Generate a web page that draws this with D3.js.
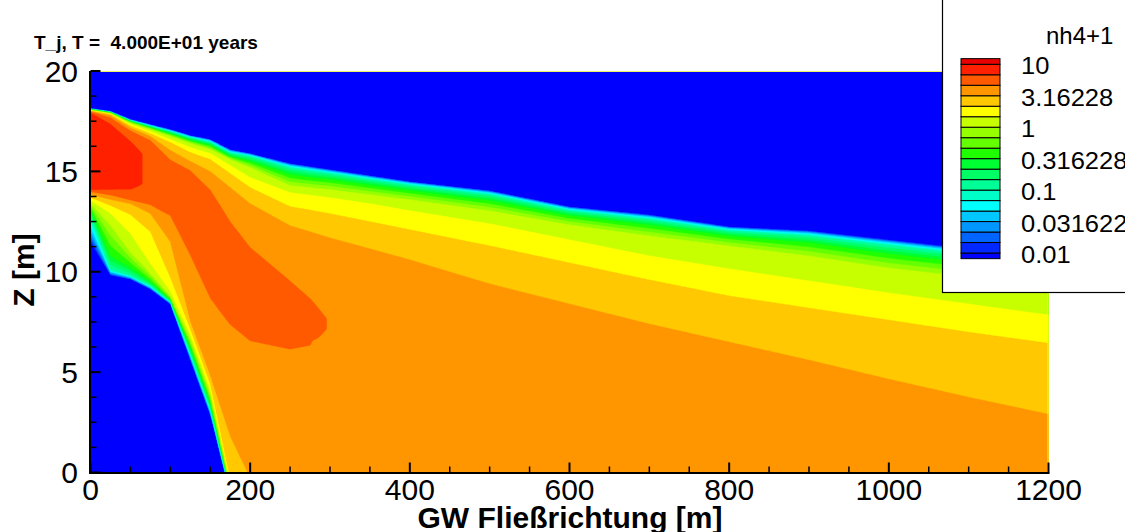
<!DOCTYPE html>
<html><head><meta charset="utf-8">
<script src="https://cdn.jsdelivr.net/npm/d3@7"></script>
<style>
html,body{margin:0;padding:0;background:#fff;overflow:hidden}
svg{display:block;font-family:"Liberation Sans",Arial,Helvetica,sans-serif}
</style></head><body>
<svg id="chart" width="1125" height="532"></svg>
<script>
// ================= DATA =================
// Stations along the flow direction (m) at which vertical profiles were read
const stationsX = [0,25,50,75,100,125,150,175,200,250,275,300,350,400,500,600,700,800,900,1000,1100,1200];

// Upper front: elevation z (m) where log10(nh4+1) reaches the given level
const topZ_m2   = [18.15,18.00,17.60,17.35,17.10,16.80,16.60,16.10,15.90,15.40,15.25,15.10,14.80,14.50,14.05,13.25,12.85,12.25,12.05,11.60,11.15,10.90]; // 0.01
const topZ_m15  = [18.12,17.98,17.57,17.30,17.05,16.75,16.55,16.02,15.84,15.32,15.17,15.02,14.72,14.43,13.97,13.17,12.76,12.17,11.95,11.49,11.04,10.77]; // 0.0316
const topZ_m1   = [18.10,17.96,17.53,17.25,16.98,16.68,16.45,15.92,15.75,15.18,15.03,14.90,14.60,14.32,13.85,13.05,12.62,12.05,11.80,11.32,10.87,10.58]; // 0.1
const topZ_m05  = [18.08,17.93,17.48,17.18,16.88,16.55,16.30,15.75,15.50,14.85,14.70,14.60,14.32,14.05,13.55,12.80,12.33,11.78,11.45,10.90,10.45,10.10]; // 0.316
const topZ_0    = [18.06,17.90,17.42,17.10,16.75,16.40,16.10,15.60,15.20,14.30,14.20,14.10,13.85,13.60,13.05,12.35,11.80,11.30,10.80,10.20,9.75,9.30];   // 1
const topZ_p017 = [18.04,17.87,17.35,17.00,16.60,16.20,15.90,15.30,14.70,13.95,13.82,13.70,13.40,13.05,12.40,11.60,10.80,10.15,9.55,8.95,8.40,7.85];   // 1.47
const topZ_p033 = [18.02,17.84,17.27,16.88,16.45,15.95,15.60,14.90,14.20,13.25,13.08,12.90,12.50,12.10,11.30,10.45,9.60,8.80,8.20,7.60,7.00,6.45];     // 2.15
const topZ_p05  = [18.00,17.80,17.17,16.75,16.05,15.50,15.00,14.20,13.40,12.30,12.00,11.70,11.15,10.60,9.40,8.40,7.40,6.50,5.60,4.65,3.75,2.90];      // 3.16

// Plume core: four (z, log10 value) points per station
const midZ1 = [17.98,17.65,17.00,16.50,15.50,15.00,14.00,12.40,11.10,9.40,8.50,8.50,10.00,9.50,8.40,7.40,6.40,5.50,4.60,3.70,2.80,2.00];
const midV1 = [0.69,0.69,0.69,0.70,0.69,0.68,0.68,0.675,0.675,0.675,0.675,0.62,0.58,0.57,0.56,0.56,0.56,0.56,0.56,0.56,0.56,0.56];
const midZ2 = [17.90,17.30,16.40,15.50,14.50,13.50,12.00,11.00,9.50,8.50,8.00,7.60,7.50,7.00,6.00,5.50,5.00,4.50,3.60,2.80,2.20,1.50];
const midV2 = [0.86,0.86,0.86,0.815,0.76,0.74,0.73,0.72,0.72,0.72,0.70,0.66,0.60,0.59,0.58,0.58,0.58,0.57,0.57,0.57,0.57,0.57];
const midZ3 = [14.10,14.15,14.20,14.50,13.50,12.00,10.00,9.00,7.50,7.00,7.00,7.20,5.00,4.50,4.00,3.50,3.00,3.00,2.50,2.00,1.50,1.00];
const midV3 = [0.86,0.86,0.86,0.815,0.76,0.74,0.73,0.72,0.72,0.72,0.70,0.66,0.60,0.59,0.58,0.58,0.58,0.58,0.58,0.58,0.58,0.58];
const midZ4 = [14.00,13.85,13.60,13.40,12.90,11.10,9.00,7.65,6.90,6.50,6.70,6.00,2.00,2.00,2.00,1.50,1.00,1.00,1.00,1.00,0.50,0.40];
const midV4 = [0.69,0.69,0.69,0.69,0.68,0.68,0.68,0.675,0.675,0.675,0.675,0.62,0.58,0.58,0.58,0.58,0.58,0.58,0.58,0.58,0.58,0.58];

// Lower (left) front: elevation z (m) where log10 value falls to the given level
const botZ_p05  = [13.85,13.60,13.40,12.90,11.50,7.50,4.80,1.80,-0.30,-1.0,-1.0,-1.0,-1.0,-1.0,-1.0,-1.0,-1.0,-1.0,-1.0,-1.0,-1.0,-1.0];
const botZ_p033 = [13.70,13.30,12.85,12.00,9.70,7.15,4.40,-0.40,-0.60,-1.2,-1.2,-1.2,-1.2,-1.2,-1.2,-1.2,-1.2,-1.2,-1.2,-1.2,-1.2,-1.2];
const botZ_p017 = [13.55,12.90,11.90,10.40,9.00,6.85,4.10,-0.60,-0.80,-1.4,-1.4,-1.4,-1.4,-1.4,-1.4,-1.4,-1.4,-1.4,-1.4,-1.4,-1.4,-1.4];
const botZ_0    = [13.40,12.30,10.95,9.90,8.75,6.60,3.85,-0.70,-1.00,-1.6,-1.6,-1.6,-1.6,-1.6,-1.6,-1.6,-1.6,-1.6,-1.6,-1.6,-1.6,-1.6];
const botZ_m05  = [13.10,10.80,10.20,9.50,8.60,6.25,3.50,-0.85,-1.20,-1.8,-1.8,-1.8,-1.8,-1.8,-1.8,-1.8,-1.8,-1.8,-1.8,-1.8,-1.8,-1.8];
const botZ_m1   = [12.70,10.10,9.80,9.30,8.50,5.90,3.15,-0.95,-1.40,-2.0,-2.0,-2.0,-2.0,-2.0,-2.0,-2.0,-2.0,-2.0,-2.0,-2.0,-2.0,-2.0];
const botZ_m15  = [12.00,9.95,9.70,9.20,8.45,5.75,3.00,-1.05,-1.50,-2.2,-2.2,-2.2,-2.2,-2.2,-2.2,-2.2,-2.2,-2.2,-2.2,-2.2,-2.2,-2.2];
const botZ_m2   = [11.40,9.80,9.60,9.10,8.35,5.55,2.80,-1.15,-1.60,-2.4,-2.4,-2.4,-2.4,-2.4,-2.4,-2.4,-2.4,-2.4,-2.4,-2.4,-2.4,-2.4];

// Contour levels (log10) and band colours, lowest first
const contourLevels = [-2,-11/6,-10/6,-1.5,-8/6,-7/6,-1,-5/6,-4/6,-0.5,-2/6,-1/6,0,1/6,2/6,0.5,4/6,5/6,1];
const belowColor = "#0000ff";
const bandColors = ["#0028ff","#0064ff","#0096ff","#00c8ff","#00ffff","#00ffc8","#00ff96","#00ff64","#00ff32",
                    "#20ff00","#64ff00","#96ff00","#c8ff00","#ffff00","#ffc800","#ff9600","#ff5a00","#ff2000","#e80000"];
const legendLabels = ["10","3.16228","1","0.316228","0.1","0.0316228","0.01"];
const legendLabelLevels = [1,0.5,0,-0.5,-1,-1.5,-2];
const xTickValues = [0,200,400,600,800,1000,1200];
const zTickValues = [0,5,10,15,20];

// ================= RENDERING =================
const svg = d3.select("#chart");
const x = d3.scaleLinear().domain([0,1200]).range([90.5,1048.5]);
const y = d3.scaleLinear().domain([0,20]).range([472.5,71]);

const knots = [
  [topZ_m2,-2],[topZ_m15,-1.5],[topZ_m1,-1],[topZ_m05,-0.5],[topZ_0,0],[topZ_p017,1/6],[topZ_p033,2/6],[topZ_p05,0.5],
  [midZ1,midV1],[midZ2,midV2],[midZ3,midV3],[midZ4,midV4],
  [botZ_p05,0.5],[botZ_p033,2/6],[botZ_p017,1/6],[botZ_0,0],[botZ_m05,-0.5],[botZ_m1,-1],[botZ_m15,-1.5],[botZ_m2,-2]
];
function profileAt(xv){
  let i = d3.bisectRight(stationsX, xv) - 1;
  i = Math.max(0, Math.min(stationsX.length-2, i));
  const f = (xv - stationsX[i])/(stationsX[i+1]-stationsX[i]);
  const zs = knots.map(([za]) => za[i]*(1-f) + za[i+1]*f);
  const vs = knots.map(([,va]) => typeof va === "number" ? va : va[i]*(1-f) + va[i+1]*f);
  return {zs, vs};
}
const dx = 1.25, dz = 0.05;
const nx = Math.round(1200/dx)+1, nz = Math.round(20/dz)+1;
const values = new Float64Array(nx*nz);
for (let i=0;i<nx;i++){
  const {zs, vs} = profileAt(i*dx);
  const last = zs.length-1;
  let k = 0;
  for (let j=0;j<nz;j++){
    const zv = 20 - j*dz;
    let v;
    if (zv >= zs[0] || zv <= zs[last]) v = -3;
    else {
      while (k < last-1 && zs[k+1] > zv) k++;
      const t = (zs[k]-zv)/(zs[k]-zs[k+1]);
      v = vs[k] + t*(vs[k+1]-vs[k]);
    }
    values[j*nx+i] = v;
  }
}
const contours = d3.contours().size([nx,nz]).thresholds(contourLevels)(values);
const proj = d3.geoTransform({point(px,py){ this.stream.point(x((px-0.5)*dx), y(20-(py-0.5)*dz)); }});
const path = d3.geoPath(proj);

const defs = svg.append("defs");
defs.append("clipPath").attr("id","plotClip").append("rect")
  .attr("x",x(0)).attr("y",y(20)).attr("width",x(1200)-x(0)).attr("height",y(0)-y(20));

const field = svg.append("g").attr("clip-path","url(#plotClip)");
field.append("rect").attr("x",x(0)).attr("y",y(20)).attr("width",x(1200)-x(0)).attr("height",y(0)-y(20)).attr("fill",belowColor);
field.selectAll("path.band").data(contours).join("path").attr("class","band")
  .attr("d",path).attr("fill",(d,i)=>bandColors[i]).attr("stroke",(d,i)=>bandColors[i]).attr("stroke-width",0.3);
// thin boundary line of the model domain (top and right)
field.append("path")
  .attr("d",`M${x(0)},${y(20)+0.5}H${x(1200)-0.5}V${y(0)}`)
  .attr("fill","none").attr("stroke","#f0f060").attr("stroke-width",1);

// axes
const axes = svg.append("g").attr("stroke","#000");
axes.append("line").attr("x1",x(0)-0.5).attr("x2",x(0)-0.5).attr("y1",y(20)).attr("y2",y(0)+1.5).attr("stroke-width",2);
axes.append("line").attr("x1",x(0)-1.5).attr("x2",x(1200)+1).attr("y1",y(0)+0.5).attr("y2",y(0)+0.5).attr("stroke-width",2);
const zMinor = d3.range(0,20.01,1.25).filter(v => v%5!==0);
axes.selectAll("line.zmaj").data(zTickValues).join("line").attr("class","zmaj")
  .attr("x1",x(0)).attr("x2",x(0)+10).attr("y1",d=>y(d)).attr("y2",d=>y(d)).attr("stroke-width",2);
axes.selectAll("line.zmin").data(zMinor).join("line").attr("class","zmin")
  .attr("x1",x(0)).attr("x2",x(0)+6).attr("y1",d=>y(d)).attr("y2",d=>y(d)).attr("stroke-width",1.5);
const xMinor = d3.range(0,1200.1,50).filter(v => v%200!==0);
axes.selectAll("line.xmaj").data(xTickValues).join("line").attr("class","xmaj")
  .attr("x1",d=>x(d)).attr("x2",d=>x(d)).attr("y1",y(0)).attr("y2",y(0)-10).attr("stroke-width",2);
axes.selectAll("line.xmin").data(xMinor).join("line").attr("class","xmin")
  .attr("x1",d=>x(d)).attr("x2",d=>x(d)).attr("y1",y(0)).attr("y2",y(0)-6).attr("stroke-width",1.5);

svg.selectAll("text.xt").data(xTickValues).join("text").attr("class","xt")
  .attr("x",d=>x(d)).attr("y",500).attr("text-anchor","middle").attr("font-size",30).text(d=>d);
svg.selectAll("text.zt").data(zTickValues).join("text").attr("class","zt")
  .attr("x",78).attr("y",d=>y(d)+10.5).attr("text-anchor","end").attr("font-size",30).text(d=>d);

svg.append("text").attr("x",570).attr("y",528).attr("text-anchor","middle")
  .attr("font-size",30).attr("font-weight","bold").text("GW Fließrichtung [m]");
svg.append("text").attr("transform","translate(34,270) rotate(-90)").attr("text-anchor","middle")
  .attr("font-size",30).attr("font-weight","bold").text("Z [m]");
svg.append("text").attr("x",34).attr("y",48.5).attr("font-size",19).attr("font-weight","bold")
  .style("white-space","pre").text("T_j, T =  4.000E+01 years");

// legend
const leg = svg.append("g");
leg.append("rect").attr("x",942.5).attr("y",-10).attr("width",300).attr("height",302.5)
  .attr("fill","#fff").attr("stroke","#000").attr("stroke-width",1.2);
leg.append("text").attr("x",1046).attr("y",43.5).attr("font-size",24).text("nh4+1");
const ly = d3.scaleLinear().domain([1,-2]).range([64.3,253]);
const legBands = [{lo:-2.09,hi:-2,c:belowColor}];
contourLevels.forEach((t,i)=>{ const hi = i<contourLevels.length-1 ? contourLevels[i+1] : 1.09; legBands.push({lo:t,hi:hi,c:bandColors[i]}); });
leg.selectAll("rect.lb").data(legBands).join("rect").attr("class","lb")
  .attr("x",961).attr("width",39).attr("y",d=>ly(d.hi)).attr("height",d=>ly(d.lo)-ly(d.hi))
  .attr("fill",d=>d.c).attr("stroke","#000").attr("stroke-width",1);
leg.selectAll("text.ll").data(legendLabels).join("text").attr("class","ll")
  .attr("transform",(d,i)=>`translate(1021,${ly(legendLabelLevels[i])+10}) scale(1.11,1)`)
  .attr("font-size",23).text(d=>d);
</script>
</body></html>
